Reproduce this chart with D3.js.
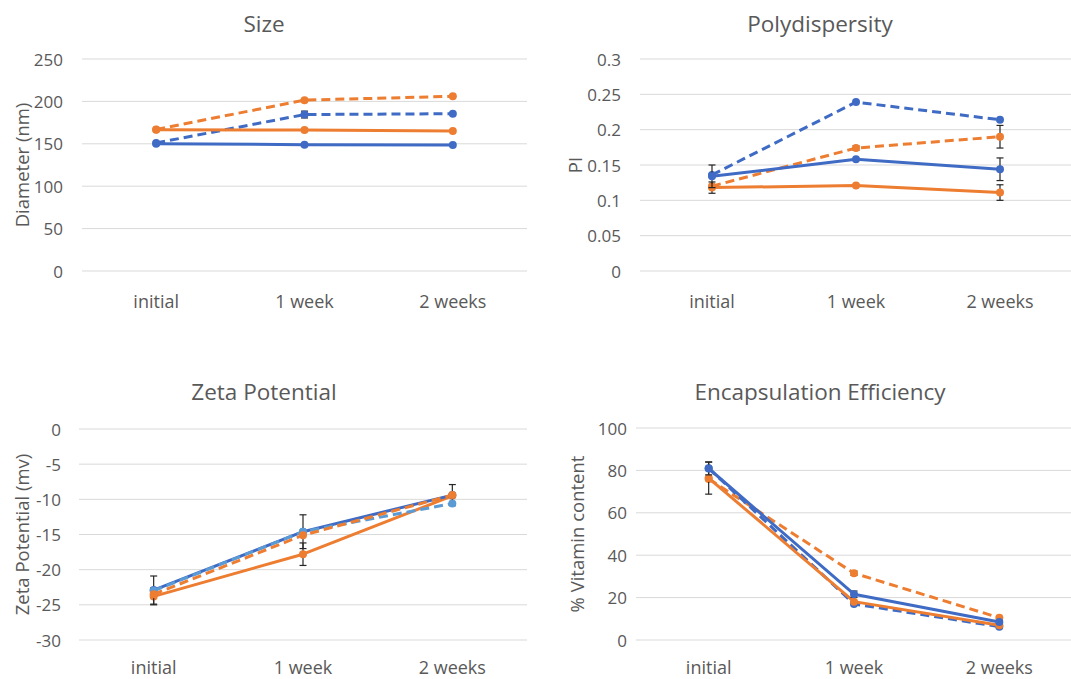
<!DOCTYPE html>
<html>
<head>
<meta charset="utf-8">
<script src="https://cdn.jsdelivr.net/npm/d3@7"></script>
<style>
  html, body { margin: 0; padding: 0; background: #fff; }
  svg { display: block; }
  text { font-family: "Open Sans", "Noto Sans", sans-serif; fill: #595959; }
</style>
</head>
<body>
<svg id="chart" width="1071" height="679"></svg>
<script>
// Time points shared by every panel
const timepoints = ["initial", "1 week", "2 weeks"];

// Size (nm)
const sizeBlueSolid    = [150, 149, 148.5];
const sizeOrangeSolid  = [166.5, 166.3, 165];
const sizeBlueDashed   = [151, 184.5, 185.5];
const sizeOrangeDashed = [167, 201.5, 206];
const sizeErrBlueDashed = [0, 4, 0];
const sizeTicks = [0, 50, 100, 150, 200, 250];

// Polydispersity index
const piBlueSolid    = [0.134, 0.158, 0.144];
const piOrangeSolid  = [0.118, 0.121, 0.111];
const piBlueDashed   = [0.136, 0.239, 0.214];
const piOrangeDashed = [0.120, 0.174, 0.190];
const piErrBlueSolid    = [0.016, 0, 0.016];
const piErrOrangeSolid  = [0.008, 0, 0.011];
const piErrOrangeDashed = [0, 0.003, 0.016];
const piTicks = [0, 0.05, 0.1, 0.15, 0.2, 0.25, 0.3];

// Zeta potential (mV)
const zetaBlueSolid    = [-22.9, -14.6, -9.4];
const zetaOrangeSolid  = [-23.8, -17.8, -9.5];
const zetaBlueDashed   = [-23.0, -14.6, -10.6];
const zetaOrangeDashed = [-23.5, -15.1, -9.4];
const zetaErrBlueSolid   = [2.0, 0, 1.5];
const zetaErrOrangeSolid = [1.2, 1.6, 0];
const zetaErrBlueDashed  = [0, 2.4, 0];
const zetaTicks = [-30, -25, -20, -15, -10, -5, 0];

// Encapsulation efficiency (% vitamin content)
const eeBlueSolid    = [80.9, 21.6, 8.5];
const eeOrangeSolid  = [76.4, 18.1, 7.0];
const eeBlueDashed   = [81.0, 17.0, 6.3];
const eeOrangeDashed = [76.0, 31.5, 10.5];
const eeErrBlueSolid    = [3.0, 1.5, 0];
const eeErrOrangeSolid  = [7.6, 0, 0];
const eeErrOrangeDashed = [0, 1.0, 0];
const eeTicks = [0, 20, 40, 60, 80, 100];

const BLUE = "#3F6BC4", ORANGE = "#ED7D31", LIGHTBLUE = "#5B9BD5";
const zeros = [0, 0, 0];

// plain hyphen for negative numbers
const intFmt = d => String(d);
const piFmt = d => d === 0 ? "0" : String(+d.toFixed(2));

const panels = [
  { title: "Size", yLabel: "Diameter (nm)", ticks: sizeTicks, domain: [0, 250], fmt: intFmt,
    box: { x0: 82, x1: 527, y0: 59, y1: 271 }, titlePos: [264, 32], yLabelX: 21, tickRight: 63, xLabelY: 308,
    series: [
      { v: sizeBlueDashed,   e: sizeErrBlueDashed, c: BLUE,   dash: true },
      { v: sizeOrangeDashed, e: zeros, c: ORANGE, dash: true },
      { v: sizeOrangeSolid,  e: zeros, c: ORANGE, dash: false },
      { v: sizeBlueSolid,    e: zeros, c: BLUE,   dash: false }
    ] },
  { title: "Polydispersity", yLabel: "PI", ticks: piTicks, domain: [0, 0.3], fmt: piFmt,
    box: { x0: 640, x1: 1072, y0: 59, y1: 271 }, titlePos: [820, 32], yLabelX: 574, tickRight: 621, xLabelY: 308,
    series: [
      { v: piBlueDashed,   e: zeros, c: BLUE,   dash: true },
      { v: piOrangeDashed, e: piErrOrangeDashed, c: ORANGE, dash: true },
      { v: piOrangeSolid,  e: piErrOrangeSolid, c: ORANGE, dash: false },
      { v: piBlueSolid,    e: piErrBlueSolid,   c: BLUE,   dash: false }
    ] },
  { title: "Zeta Potential", yLabel: "Zeta Potential (mv)", ticks: zetaTicks, domain: [-30, 0], fmt: intFmt,
    box: { x0: 79, x1: 527, y0: 429, y1: 640 }, titlePos: [264, 400], yLabelX: 21, tickRight: 61, xLabelY: 674,
    series: [
      { v: zetaOrangeSolid,  e: zetaErrOrangeSolid, c: ORANGE, dash: false },
      { v: zetaBlueSolid,    e: zetaErrBlueSolid,   c: BLUE,   dash: false },
      { v: zetaBlueDashed,   e: zetaErrBlueDashed,  c: LIGHTBLUE, dash: true },
      { v: zetaOrangeDashed, e: zeros, c: ORANGE, dash: true }
    ] },
  { title: "Encapsulation Efficiency", yLabel: "% Vitamin content", ticks: eeTicks, domain: [0, 100], fmt: intFmt,
    box: { x0: 636, x1: 1072, y0: 428, y1: 640 }, titlePos: [820, 400], yLabelX: 576, tickRight: 627, xLabelY: 674,
    series: [
      { v: eeOrangeDashed, e: eeErrOrangeDashed, c: ORANGE, dash: true },
      { v: eeBlueDashed,   e: zeros, c: BLUE,   dash: true },
      { v: eeOrangeSolid,  e: eeErrOrangeSolid, c: ORANGE, dash: false },
      { v: eeBlueSolid,    e: eeErrBlueSolid,   c: BLUE,   dash: false }
    ] }
];

const svg = d3.select("#chart");

panels.forEach(p => {
  const g = svg.append("g");
  const x = d3.scalePoint().domain(timepoints).range([p.box.x0, p.box.x1]).padding(0.5);
  const y = d3.scaleLinear().domain(p.domain).range([p.box.y1, p.box.y0]);

  // horizontal gridlines
  g.selectAll("line.grid").data(p.ticks).join("line")
    .attr("x1", p.box.x0).attr("x2", p.box.x1)
    .attr("y1", d => y(d)).attr("y2", d => y(d))
    .attr("stroke", "#D9D9D9").attr("stroke-width", 1);

  // y tick labels
  g.selectAll("text.ytick").data(p.ticks).join("text")
    .attr("x", p.tickRight).attr("y", d => y(d))
    .attr("text-anchor", "end").attr("dominant-baseline", "central")
    .attr("font-size", 17).text(p.fmt);

  // x category labels
  g.selectAll("text.xtick").data(timepoints).join("text")
    .attr("x", d => x(d)).attr("y", p.xLabelY)
    .attr("text-anchor", "middle").attr("font-size", 18).text(d => d);

  // panel title
  g.append("text").attr("x", p.titlePos[0]).attr("y", p.titlePos[1])
    .attr("text-anchor", "middle").attr("font-size", 22.5).text(p.title);

  // y axis title
  const cy = (p.box.y0 + p.box.y1) / 2;
  g.append("text")
    .attr("transform", `translate(${p.yLabelX},${cy}) rotate(-90)`)
    .attr("text-anchor", "middle").attr("dominant-baseline", "central")
    .attr("font-size", 18.5).text(p.yLabel);

  const line = d3.line().x((d, i) => x(timepoints[i])).y(d => y(d));

  p.series.forEach(s => {
    // error bars
    const eb = g.append("g");
    s.v.forEach((v, i) => {
      if (!s.e[i]) return;
      const cx = x(timepoints[i]);
      const top = y(v + s.e[i]), bot = y(v - s.e[i]);
      eb.append("line").attr("x1", cx).attr("x2", cx).attr("y1", top).attr("y2", bot)
        .attr("stroke", "#262626").attr("stroke-width", 1.2);
      [top, bot].forEach(yy => eb.append("line")
        .attr("x1", cx - 3.5).attr("x2", cx + 3.5).attr("y1", yy).attr("y2", yy)
        .attr("stroke", "#262626").attr("stroke-width", 1.2));
    });

    g.append("path").datum(s.v).attr("d", line)
      .attr("fill", "none").attr("stroke", s.c).attr("stroke-width", 3)
      .attr("stroke-linejoin", "round")
      .attr("stroke-dasharray", s.dash ? "9,5" : null);

    g.selectAll(null).data(s.v).join("circle")
      .attr("cx", (d, i) => x(timepoints[i])).attr("cy", d => y(d))
      .attr("r", 4).attr("fill", s.c);
  });
});
</script>
</body>
</html>
